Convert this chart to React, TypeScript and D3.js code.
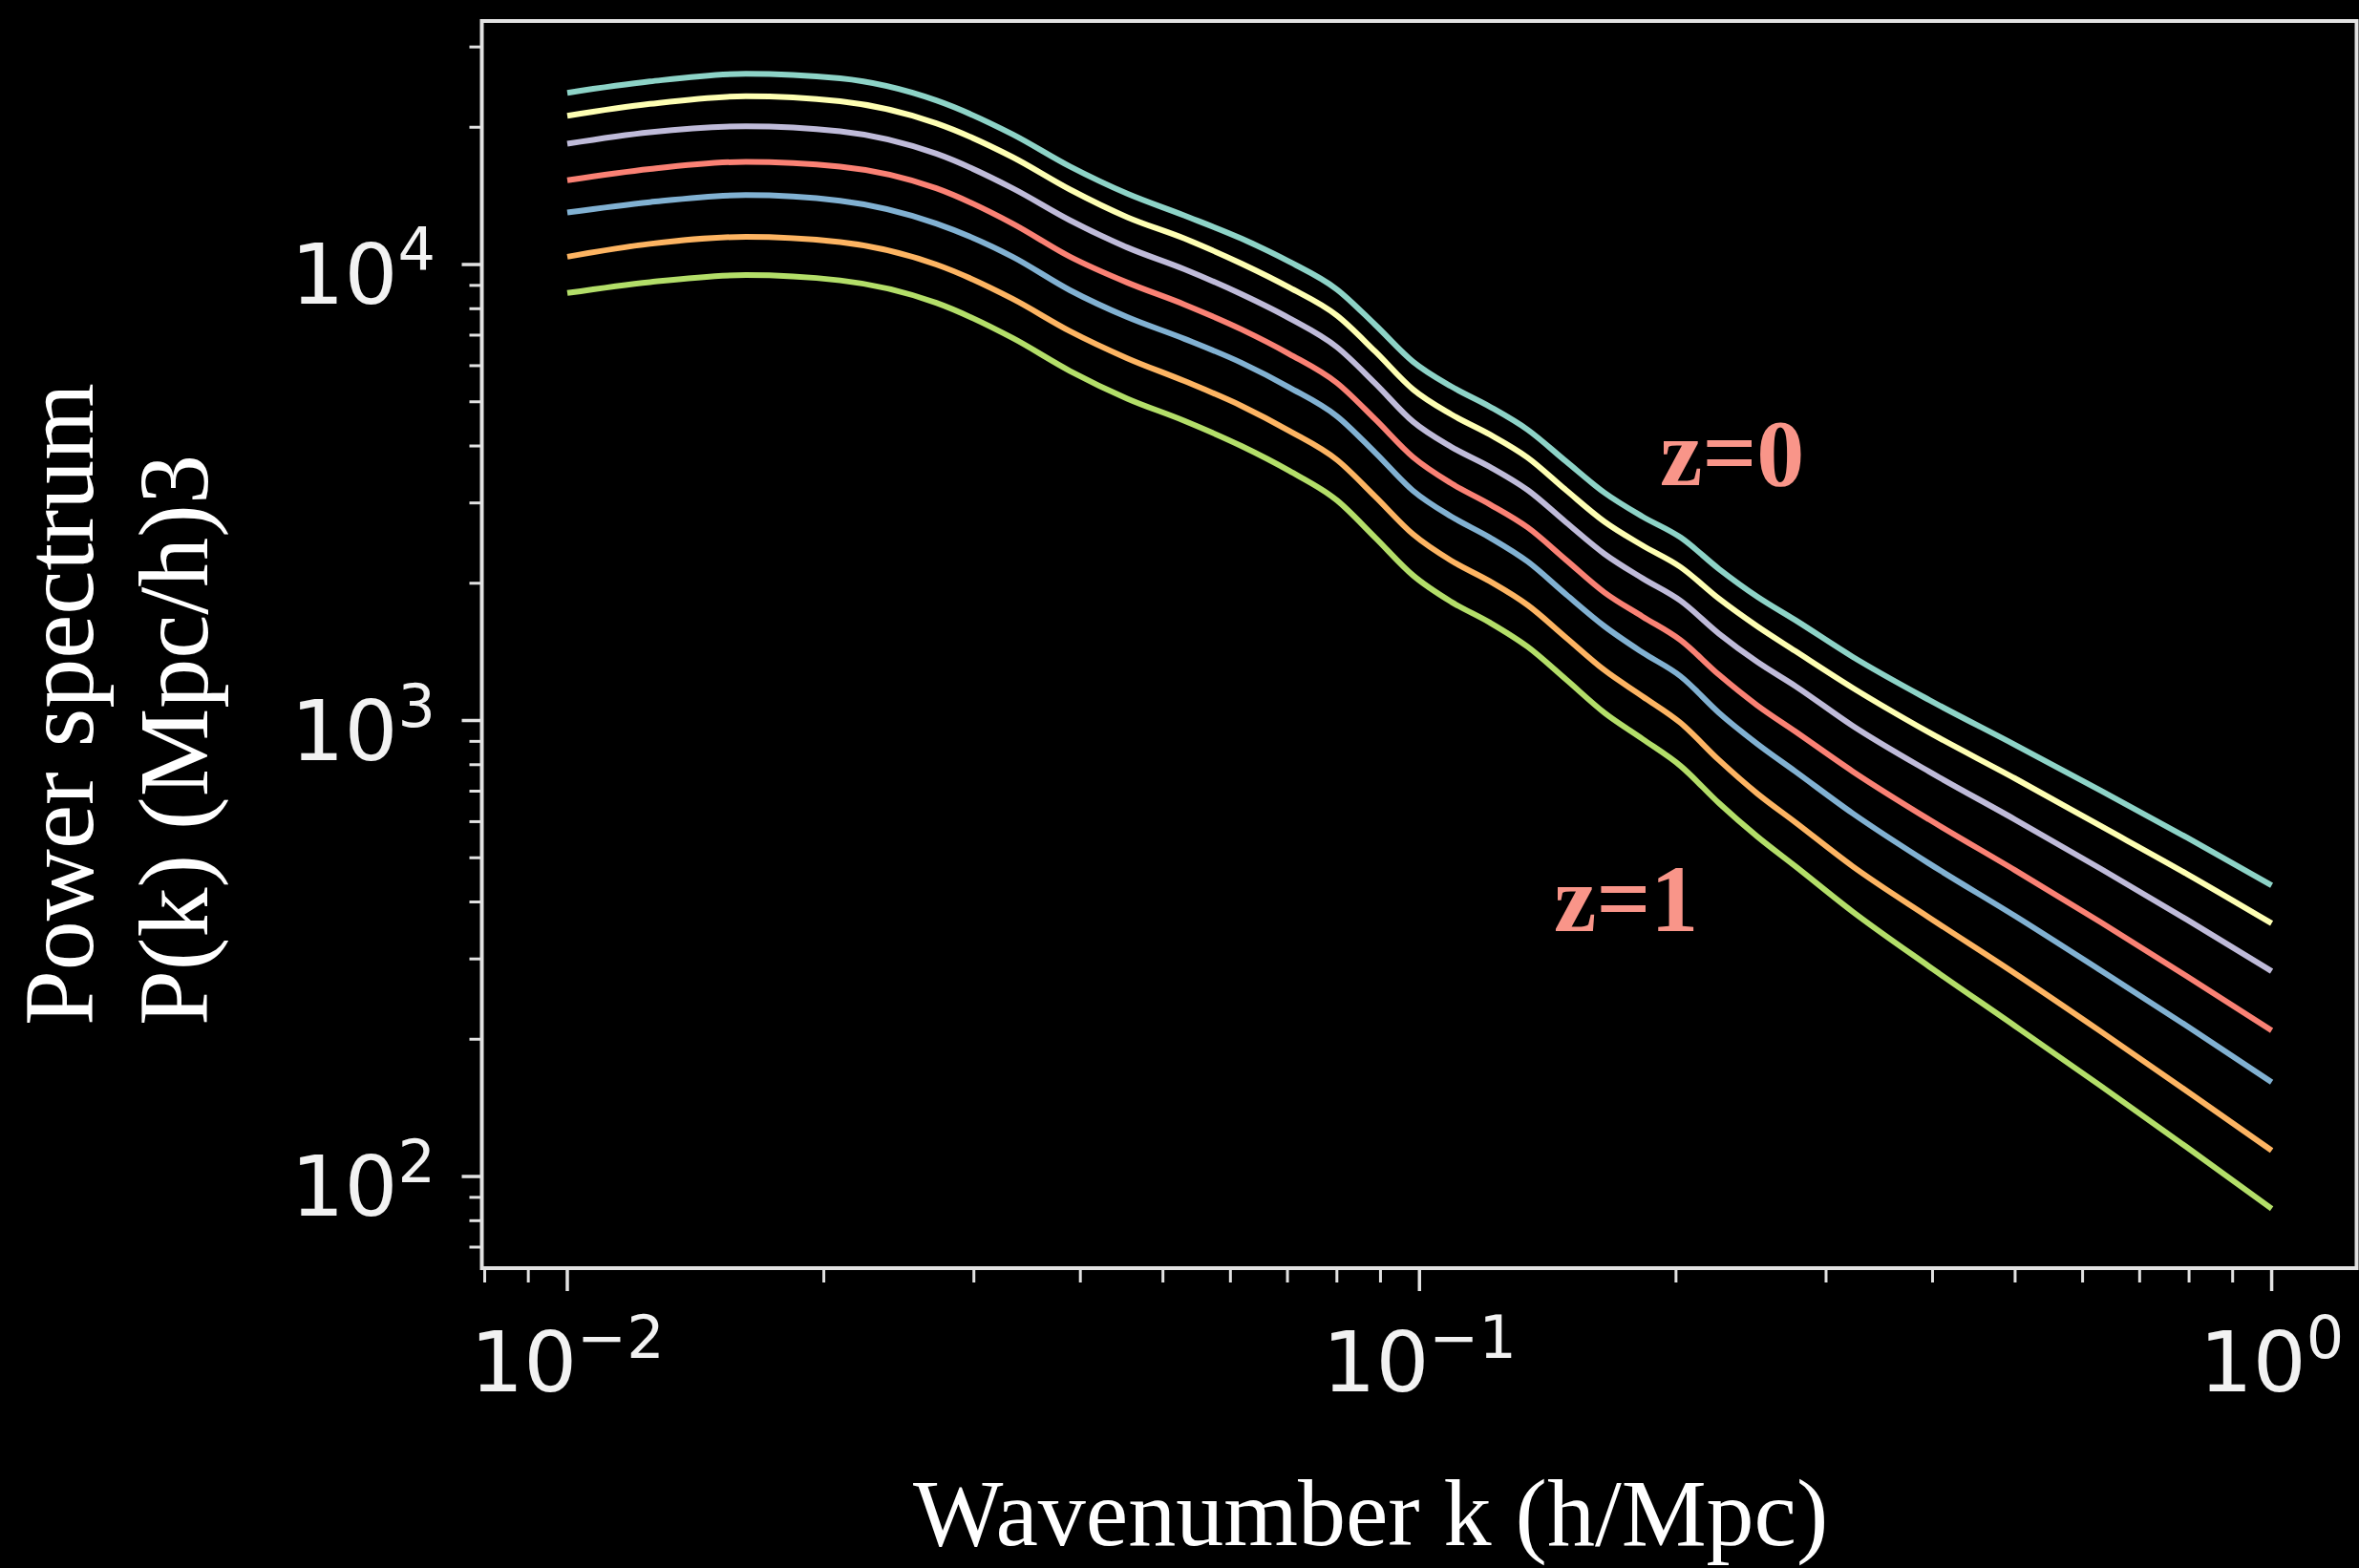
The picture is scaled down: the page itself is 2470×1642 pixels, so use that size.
import React from 'react';
import * as d3 from 'd3';

const W = 2470;
const H = 1642;

// Wavenumber grid k (h/Mpc)
const kValues = [0.01, 0.0125, 0.0162, 0.0209, 0.0271, 0.0333, 0.0389, 0.0454, 0.053, 0.0618, 0.0703, 0.08, 0.0887, 0.0983, 0.109, 0.1209, 0.134, 0.1486, 0.1648, 0.1827, 0.2025, 0.2246, 0.249, 0.2761, 0.3222, 0.3961, 0.4995, 0.6301, 0.7949, 1.0];

// Power spectrum P(k) for each redshift curve (top z=0 ... bottom z=1)
const pkZ0 = [23800, 25200, 26200, 25600, 22900, 19300, 16400, 14300, 12800, 11400, 10150, 8820, 7380, 6120, 5400, 4880, 4340, 3700, 3160, 2800, 2520, 2150, 1870, 1660, 1380, 1110, 885, 702, 554, 435];
const pkZ1 = [21200, 22500, 23400, 22800, 20400, 17200, 14600, 12700, 11400, 10050, 8910, 7730, 6450, 5320, 4690, 4240, 3770, 3200, 2730, 2420, 2170, 1850, 1610, 1420, 1180, 942, 747, 587, 461, 359];
const pkZ2 = [18400, 19500, 20100, 19600, 17500, 14700, 12500, 10900, 9760, 8610, 7630, 6590, 5490, 4520, 3980, 3600, 3200, 2720, 2320, 2050, 1830, 1550, 1345, 1190, 974, 773, 607, 473, 366, 282];
const pkZ3 = [15300, 16200, 16800, 16400, 14700, 12300, 10400, 9130, 8170, 7210, 6370, 5500, 4580, 3780, 3310, 2980, 2650, 2250, 1910, 1690, 1500, 1260, 1080, 946, 774, 607, 470, 361, 275, 209];
const pkZ4 = [13000, 13700, 14200, 13800, 12300, 10400, 8780, 7670, 6870, 6090, 5380, 4650, 3870, 3190, 2800, 2520, 2230, 1890, 1610, 1410, 1250, 1040, 889, 773, 626, 486, 373, 283, 214, 161];
const pkZ5 = [10400, 11100, 11500, 11200, 10000, 8410, 7140, 6230, 5550, 4900, 4320, 3730, 3100, 2560, 2240, 2020, 1790, 1520, 1290, 1130, 988, 819, 692, 598, 479, 370, 279, 208, 154, 114];
const pkZ6 = [8660, 9150, 9480, 9230, 8240, 6900, 5840, 5080, 4540, 4000, 3530, 3040, 2520, 2080, 1820, 1640, 1450, 1230, 1040, 911, 795, 659, 557, 479, 381, 289, 214, 158, 116, 85];

const seriesValues = [pkZ0, pkZ1, pkZ2, pkZ3, pkZ4, pkZ5, pkZ6];
const seriesColors = ['#8dd3c7', '#feffb3', '#bfbbd9', '#fa8174', '#81b1d2', '#fdb462', '#b3de69'];

const xMajorTicks = [0.01, 0.1, 1];
const xMajorLabels = ['\u22122', '\u22121', '0'];
const yMajorTicks = [100, 1000, 10000];
const yMajorLabels = ['2', '3', '4'];

const yTitleLines = ['Power spectrum', 'P(k) (Mpc/h)3'];
const xTitle = 'Wavenumber k (h/Mpc)';

const annotations = [
  { text: 'z=0', x: 1738, y: 508 },
  { text: 'z=1', x: 1627, y: 975 },
];

const PLOT = { left: 504.5, right: 2467.5, top: 22, bottom: 1328 };

const xScale = d3.scaleLog().domain([Math.pow(10, -2.1003), Math.pow(10, 0.0997)]).range([PLOT.left, PLOT.right]);
const yScale = d3.scaleLog().domain([62.95, 34200]).range([PLOT.bottom, PLOT.top]);

function minorTicks(scale: d3.ScaleLogarithmic<number, number>) {
  const [a, b] = scale.domain();
  const lo = Math.min(a, b), hi = Math.max(a, b);
  const out: number[] = [];
  for (let e = Math.floor(Math.log10(lo)); e <= Math.ceil(Math.log10(hi)); e++) {
    for (let m = 2; m <= 9; m++) {
      const v = m * Math.pow(10, e);
      if (v >= lo && v <= hi) out.push(v);
    }
  }
  return out;
}

export default function App() {
  React.useEffect(() => {
    document.body.style.margin = '0';
    document.body.style.background = '#000';
  }, []);

  const line = d3
    .line<[number, number]>()
    .x((d) => xScale(d[0]))
    .y((d) => yScale(d[1]))
    .curve(d3.curveMonotoneX);

  const axisColor = '#e2e2e2';
  const tickFont = 'DejaVu Sans, Verdana, sans-serif';
  const serif = '"Liberation Serif", "Times New Roman", Times, serif';

  return (
    <svg width={W} height={H} style={{ display: 'block', position: 'absolute', left: 0, top: 0 }}>
      <rect x={0} y={0} width={W} height={H} fill="#000" />

      {seriesValues.map((vals, i) => (
        <path
          key={i}
          d={line(kValues.map((k, j) => [k, vals[j]] as [number, number])) || ''}
          fill="none"
          stroke={seriesColors[i]}
          strokeWidth={6}
          strokeLinejoin="round"
          strokeLinecap="butt"
        />
      ))}

      {/* spines */}
      <rect
        x={PLOT.left}
        y={PLOT.top}
        width={PLOT.right - PLOT.left}
        height={PLOT.bottom - PLOT.top}
        fill="none"
        stroke={axisColor}
        strokeWidth={4}
      />

      {/* y ticks */}
      {yMajorTicks.map((v) => (
        <line key={'ym' + v} x1={PLOT.left - 21} x2={PLOT.left} y1={yScale(v)} y2={yScale(v)} stroke={axisColor} strokeWidth={3.5} />
      ))}
      {minorTicks(yScale).map((v) => (
        <line key={'yn' + v} x1={PLOT.left - 13} x2={PLOT.left} y1={yScale(v)} y2={yScale(v)} stroke={axisColor} strokeWidth={3} />
      ))}
      {/* x ticks */}
      {xMajorTicks.map((v) => (
        <line key={'xm' + v} x1={xScale(v)} x2={xScale(v)} y1={PLOT.bottom} y2={PLOT.bottom + 24} stroke={axisColor} strokeWidth={3.5} />
      ))}
      {minorTicks(xScale).map((v) => (
        <line key={'xn' + v} x1={xScale(v)} x2={xScale(v)} y1={PLOT.bottom} y2={PLOT.bottom + 15} stroke={axisColor} strokeWidth={3} />
      ))}

      {/* y tick labels */}
      {yMajorTicks.map((v, i) => (
        <text key={'yl' + v} x={456} y={yScale(v) + 41} textAnchor="end" fontFamily={tickFont} fontSize={88} fill="#f2f2f2">
          <tspan>10</tspan>
          <tspan fontSize={62} dy={-35}>{yMajorLabels[i]}</tspan>
        </text>
      ))}
      {/* x tick labels */}
      {xMajorTicks.map((v, i) => (
        <text key={'xl' + v} x={xScale(v)} y={1457} textAnchor="middle" fontFamily={tickFont} fontSize={88} fill="#f2f2f2">
          <tspan>10</tspan>
          <tspan fontSize={62} dy={-35}>{xMajorLabels[i]}</tspan>
        </text>
      ))}

      {/* axis titles */}
      <text transform="translate(97,1074) rotate(-90)" fontFamily={serif} fontSize={104} fill="#fff">
        {yTitleLines[0]}
      </text>
      <text transform="translate(217,1074) rotate(-90)" fontFamily={serif} fontSize={104} fill="#fff">
        {yTitleLines[1]}
      </text>
      <text x={956} y={1618} fontFamily={serif} fontSize={100} fill="#fff">
        {xTitle}
      </text>

      {annotations.map((a) => (
        <text key={a.text} x={a.x} y={a.y} fontFamily={serif} fontWeight="bold" fontSize={100} fill="#f99589">
          {a.text}
        </text>
      ))}
    </svg>
  );
}
